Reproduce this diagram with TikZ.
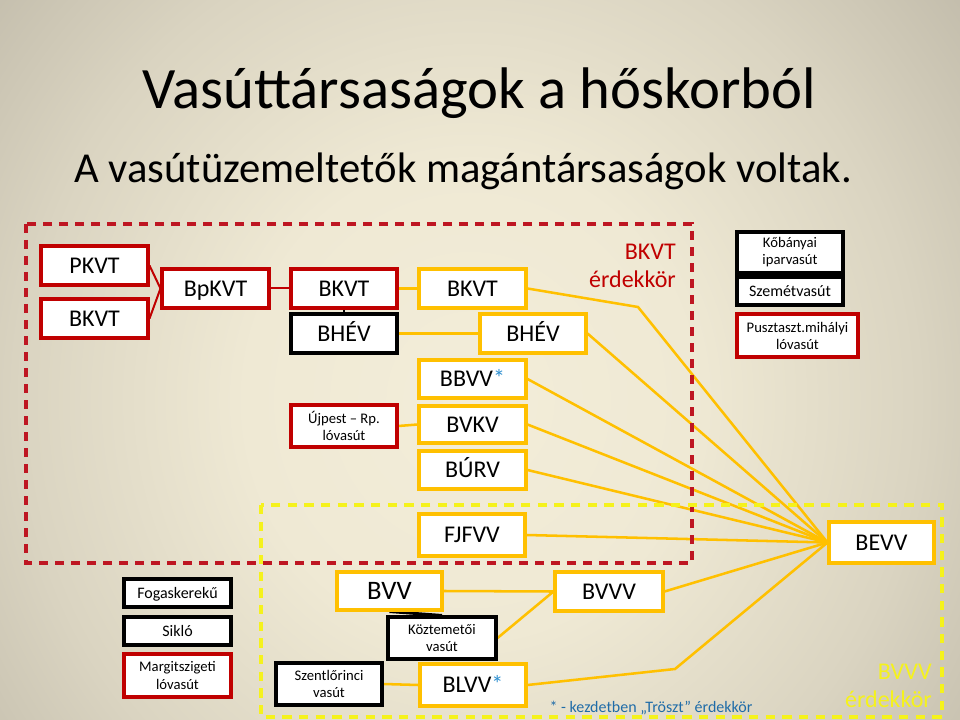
\documentclass[tikz,border=0pt]{standalone}
\usepackage{fontspec}
\setmainfont{Carlito}
\definecolor{boxred}{HTML}{C00000}
\definecolor{boxyel}{HTML}{FFC000}
\definecolor{dashyel}{HTML}{F5F21C}
\definecolor{dashred}{HTML}{BE1622}
\definecolor{astblue}{HTML}{2E8FD0}
\definecolor{notblue}{HTML}{1F6CA8}
\definecolor{bgA}{HTML}{F3EDD9}
\definecolor{bgB}{HTML}{EFE9D4}
\definecolor{bgC}{HTML}{DAD4C1}
\definecolor{bgD}{HTML}{C2BCAB}
\definecolor{bgE}{HTML}{A6A295}
\definecolor{bgF}{HTML}{8F8C82}
\definecolor{bgG}{HTML}{86837A}
\pgfdeclareradialshading{slidebg}{\pgfpoint{0bp}{0bp}}{color(0bp)=(bgA); color(11bp)=(bgB); color(22bp)=(bgC); color(31bp)=(bgD); color(39bp)=(bgE); color(48bp)=(bgF); color(80bp)=(bgG)}
\pgfdeclarelayer{bg}
\pgfdeclarelayer{conn}
\pgfdeclarelayer{dash}
\pgfsetlayers{bg,conn,dash,main}
\newcommand\bx[7]{\node[#6,minimum width={(#4-#2)*0.75pt},minimum height={(#5-#3)*0.75pt}] (#1) at ({(#2+#4)/2},{(#3+#5)/2}) {#7};}
\begin{document}
\begin{tikzpicture}[x=0.75pt,y=-0.75pt,
  bxbase/.style={draw, fill=white, line width=2.3pt, inner sep=0pt, align=center, text=black},
  rbx/.style={bxbase, draw=boxred},
  ybx/.style={bxbase, draw=boxyel},
  kbx/.style={bxbase, draw=black},
  bigtxt/.style={font=\fontsize{18}{20}\selectfont, text height=11.6pt, text depth=0pt},
  smalltxt/.style={font=\fontsize{11}{12.8}\selectfont},
  onetxt/.style={font=\fontsize{12}{14}\selectfont, text height=7.8pt, text depth=0pt},
  rconn/.style={draw=boxred, line width=1.5pt},
  yconn/.style={draw=boxyel, line width=1.9pt},
  kconn/.style={draw=black, line width=2.2pt},
  rdash/.style={draw=dashred, line width=2.3pt, dash pattern=on 7pt off 5pt},
  ydash/.style={draw=dashyel, line width=2.3pt, dash pattern=on 7pt off 5.5pt}]
\useasboundingbox (0,0) rectangle (960,720);
\begin{pgfonlayer}{bg}
\clip (0,0) rectangle (960,720);
\shade[shading=slidebg] (-40,-140) rectangle (980,940);
\end{pgfonlayer}

% titles
\node[font=\fontsize{44}{50}\selectfont, anchor=base, inner sep=0pt] (title) at (479,109) {Vasúttársaságok a hőskorból};
\node[font=\fontsize{32}{38}\selectfont, anchor=base, inner sep=0pt] (sub) at (463,183) {A vasútüzemeltetők magántársaságok voltak.};

% boxes
\bx{pkvt}{41}{246}{148}{285}{rbx,bigtxt}{PKVT}
\bx{bkvta}{41}{299}{148}{338}{rbx,bigtxt}{BKVT}
\bx{bpkvt}{162}{269}{269}{308}{rbx,bigtxt}{BpKVT}
\bx{bkvtr}{291}{269}{397}{308}{rbx,bigtxt}{BKVT}
\bx{bhevk}{291}{314}{397}{353}{kbx,bigtxt}{BHÉV}
\bx{bkvty}{419}{269}{526}{308}{ybx,bigtxt}{BKVT}
\bx{bhevy}{480}{314}{586}{353}{ybx,bigtxt}{BHÉV}
\bx{kob}{737}{232}{843}{273}{kbx,smalltxt}{Kőbányai\\iparvasút}
\bx{szem}{737}{277}{843}{305}{kbx,onetxt}{Szemétvasút}
\bx{pusz}{737}{314}{858}{357}{rbx,smalltxt}{Pusztaszt.mihályi\\lóvasút}
\bx{bbvv}{419}{360}{526}{398}{ybx,bigtxt}{BBVV\textcolor{astblue}{*}}
\bx{ujp}{291}{405}{397}{447}{rbx,smalltxt}{Újpest – Rp.\\lóvasút}
\bx{bvkv}{419}{406}{526}{443}{ybx,bigtxt}{BVKV}
\bx{burv}{419}{451}{526}{489}{ybx,bigtxt}{BÚRV}
\bx{fjfvv}{419}{514}{525}{556}{ybx,bigtxt}{FJFVV}
\bx{bevv}{829}{522}{934}{563}{ybx,bigtxt}{BEVV}
\bx{fog}{124}{579}{231}{607}{kbx,onetxt}{Fogaskerekű}
\bx{sik}{124}{617}{231}{645}{kbx,onetxt}{Sikló}
\bx{marg}{124}{654}{231}{697}{rbx,smalltxt}{Margitszigeti\\lóvasút}
\bx{bvv}{337}{572}{442}{610}{ybx,font=\fontsize{20}{22}\selectfont, text height=12.9pt, text depth=0pt}{BVV}
\bx{bvvv}{555}{572}{663}{611}{ybx,bigtxt}{BVVV}
\bx{koz}{388}{617}{496}{659}{kbx,smalltxt}{Köztemetői\\vasút}
\bx{szent}{276}{663}{382}{705}{kbx,smalltxt}{Szentlőrinci\\vasút}
\bx{blvv}{420}{664}{526}{706}{ybx,bigtxt}{BLVV\textcolor{astblue}{*}}

% labels
\node[text=boxred, font=\fontsize{18}{21}\selectfont, align=right, anchor=east, inner sep=0pt] (bkvtlab) at (676,266) {BKVT\\érdekkör};
\node[text=dashyel, font=\fontsize{18}{21}\selectfont, align=right, anchor=east, inner sep=0pt] (bvvvlab) at (932,686) {BVVV\\érdekkör};
\node[text=notblue, font=\fontsize{12}{14}\selectfont, anchor=base, inner sep=0pt] (note) at (651,712) {* - kezdetben „Tröszt” érdekkör};

\coordinate (kbend) at (638,307);
\coordinate (lbend) at (675,669);

\begin{pgfonlayer}{conn}
\draw[rconn] (pkvt.east) -- (bpkvt.west);
\draw[rconn] (bkvta.east) -- (bpkvt.west);
\draw[rconn] (bpkvt.east) -- (bkvtr.west);
\draw[kconn] (bkvtr.south) -- (bhevk.north);
\draw[kconn] (bvv.south) -- (koz.north);
\draw[yconn] (bkvtr.east) -- (bkvty.west);
\draw[yconn] (bhevk.east) -- (bhevy.west);
\draw[yconn] (ujp.east) -- (bvkv.west);
\draw[yconn] (bvv.east) -- (bvvv.west);
\draw[yconn] (koz.east) -- (bvvv.west);
\draw[yconn] (szent.east) -- (blvv.west);
\draw[yconn] (bkvty.east) -- (kbend) -- (bevv.west);
\draw[yconn] (bhevy.east) -- (bevv.west);
\draw[yconn] (bbvv.east) -- (bevv.west);
\draw[yconn] (bvkv.east) -- (bevv.west);
\draw[yconn] (burv.east) -- (bevv.west);
\draw[yconn] (fjfvv.east) -- (bevv.west);
\draw[yconn] (bvvv.east) -- (bevv.west);
\draw[yconn] (blvv.east) -- (lbend) -- (bevv.west);
\end{pgfonlayer}

\begin{pgfonlayer}{dash}
\draw[rdash] (26,224) rectangle (692,563);
\draw[ydash] (261,505) rectangle (942,717);
\end{pgfonlayer}
\end{tikzpicture}
\end{document}
